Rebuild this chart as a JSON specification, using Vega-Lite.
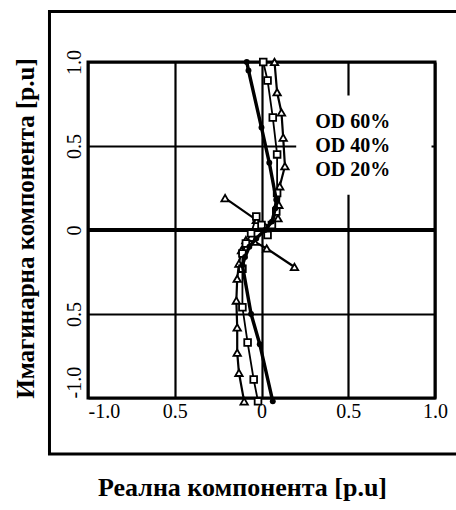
{
  "$schema": "https://vega.github.io/schema/vega-lite/v6.json",
  "width": 347,
  "height": 336,
  "autosize": {"type": "none"},
  "padding": {"left": 88, "top": 62, "right": 21, "bottom": 112},
  "background": "white",
  "config": {
    "view": {"stroke": "black", "strokeWidth": 3},
    "axis": {
      "grid": true, "gridColor": "black", "gridWidth": 2.2, "gridOpacity": 1,
      "domain": false, "ticks": false,
      "labelColor": "black", "labelFont": "Liberation Serif", "labelFontSize": 20,
      "titleFont": "Liberation Serif", "titleFontWeight": "bold", "titleFontSize": 25, "titleColor": "black"
    }
  },
  "datasets": {
    "od60": [
      {"b": "a", "i": 1, "x": -0.085, "y": 1.0},
      {"b": "a", "i": 2, "x": -0.075, "y": 0.95},
      {"b": "a", "i": 3, "x": 0.0, "y": 0.61},
      {"b": "a", "i": 4, "x": 0.045, "y": 0.4},
      {"b": "a", "i": 5, "x": 0.085, "y": 0.18},
      {"b": "a", "i": 6, "x": 0.08, "y": 0.13},
      {"b": "a", "i": 7, "x": 0.06, "y": 0.05},
      {"b": "a", "i": 8, "x": 0.02, "y": 0.0},
      {"b": "a", "i": 9, "x": -0.03, "y": -0.05},
      {"b": "a", "i": 10, "x": -0.07, "y": -0.1},
      {"b": "a", "i": 11, "x": -0.095, "y": -0.16},
      {"b": "a", "i": 12, "x": -0.11, "y": -0.21},
      {"b": "a", "i": 13, "x": -0.06, "y": -0.5},
      {"b": "a", "i": 14, "x": -0.01, "y": -0.68},
      {"b": "a", "i": 15, "x": 0.065, "y": -1.02}
    ],
    "od40": [
      {"b": "a", "i": 1, "x": 0.01, "y": 1.0},
      {"b": "a", "i": 2, "x": 0.035, "y": 0.89},
      {"b": "a", "i": 3, "x": 0.065, "y": 0.67},
      {"b": "a", "i": 4, "x": 0.09, "y": 0.45},
      {"b": "a", "i": 5, "x": 0.09, "y": 0.22},
      {"b": "a", "i": 6, "x": 0.085, "y": 0.11},
      {"b": "a", "i": 7, "x": 0.06, "y": 0.03},
      {"b": "a", "i": 8, "x": 0.035, "y": -0.03},
      {"b": "a", "i": 9, "x": 0.0, "y": 0.03},
      {"b": "a", "i": 10, "x": -0.03, "y": 0.08},
      {"b": "a", "i": 11, "x": -0.06, "y": -0.02},
      {"b": "a", "i": 12, "x": -0.09, "y": -0.08},
      {"b": "a", "i": 13, "x": -0.11, "y": -0.14},
      {"b": "a", "i": 14, "x": -0.11, "y": -0.23},
      {"b": "a", "i": 15, "x": -0.11, "y": -0.46},
      {"b": "a", "i": 16, "x": -0.08, "y": -0.67},
      {"b": "a", "i": 17, "x": -0.045, "y": -0.89},
      {"b": "a", "i": 18, "x": -0.02, "y": -1.02}
    ],
    "od20": [
      {"b": "a", "i": 1, "x": 0.075, "y": 1.0},
      {"b": "a", "i": 2, "x": 0.09, "y": 0.82},
      {"b": "a", "i": 3, "x": 0.115, "y": 0.7},
      {"b": "a", "i": 4, "x": 0.125, "y": 0.55},
      {"b": "a", "i": 5, "x": 0.135, "y": 0.38},
      {"b": "a", "i": 6, "x": 0.105, "y": 0.26},
      {"b": "a", "i": 7, "x": 0.1, "y": 0.15},
      {"b": "a", "i": 8, "x": 0.095, "y": 0.07},
      {"b": "a", "i": 9, "x": 0.05, "y": 0.02},
      {"b": "a", "i": 10, "x": -0.03, "y": 0.06},
      {"b": "a", "i": 11, "x": -0.21, "y": 0.19},
      {"b": "b", "i": 1, "x": 0.19, "y": -0.22},
      {"b": "b", "i": 2, "x": 0.03, "y": -0.11},
      {"b": "b", "i": 3, "x": -0.04, "y": -0.07},
      {"b": "b", "i": 4, "x": -0.09, "y": -0.06},
      {"b": "b", "i": 5, "x": -0.115, "y": -0.12},
      {"b": "b", "i": 6, "x": -0.13, "y": -0.2},
      {"b": "b", "i": 7, "x": -0.14, "y": -0.29},
      {"b": "b", "i": 8, "x": -0.145, "y": -0.42},
      {"b": "b", "i": 9, "x": -0.14, "y": -0.58},
      {"b": "b", "i": 10, "x": -0.14, "y": -0.73},
      {"b": "b", "i": 11, "x": -0.13, "y": -0.85},
      {"b": "b", "i": 12, "x": -0.1, "y": -1.02}
    ]
  },
  "encoding": {
    "x": {
      "field": "x", "type": "quantitative",
      "scale": {"domain": [-1, 1], "nice": false, "zero": false},
      "axis": {
        "values": [-1, -0.5, 0, 0.5, 1],
        "labelExpr": "datum.value == 0 ? '0' : datum.value <= -1 ? '-1.0' : datum.value >= 1 ? '1.0' : '0.5'",
        "labelPadding": 3,
        "labelAlign": {"condition": {"test": "datum.value <= -1", "value": "left"}, "value": "center"},
        "title": "Реална компонента  [p.u]",
        "titleX": 154, "titleY": 97, "titleAlign": "center", "titleBaseline": "alphabetic", "titleFontSize": 26
      }
    },
    "y": {
      "field": "y", "type": "quantitative",
      "scale": {"domain": [-1, 1], "nice": false, "zero": false},
      "axis": {
        "values": [-1, -0.5, 0, 0.5, 1],
        "labelExpr": "datum.value == 0 ? '0' : datum.value <= -1 ? '-1.0' : datum.value >= 1 ? '1.0' : '0.5'",
        "labelAngle": 270,
        "labelPadding": 4,
        "labelBaseline": "bottom",
        "labelAlign": {"condition": {"test": "datum.value <= -1", "value": "left"}, "value": "center"},
        "title": "Имагинарна компонента [p.u]",
        "titleAngle": 270, "titleX": -55, "titleY": 166, "titleAlign": "center", "titleBaseline": "alphabetic"
      }
    }
  },
  "layer": [
    {
      "data": {"values": [{"x": -1.222, "x2": 1.3, "y": -1.333, "y2": 1.3}]},
      "mark": {"type": "rect", "filled": false, "stroke": "black", "strokeWidth": 3, "clip": false},
      "encoding": {"x2": {"field": "x2"}, "y2": {"field": "y2"}}
    },
    {
      "data": {"values": [{"x": -1, "x2": 1, "y": 0}]},
      "mark": {"type": "rule", "color": "black", "strokeWidth": 4},
      "encoding": {"x2": {"field": "x2"}}
    },
    {
      "data": {"values": [{"x": 0.2, "x2": 0.98, "y": 0.21, "y2": 0.8}]},
      "mark": {"type": "rect", "fill": "white", "stroke": null},
      "encoding": {"x2": {"field": "x2"}, "y2": {"field": "y2"}}
    },
    {
      "data": {"values": [
        {"t": "OD 60%", "x": 0.31, "y": 0.643},
        {"t": "OD 40%", "x": 0.31, "y": 0.5},
        {"t": "OD 20%", "x": 0.31, "y": 0.357}
      ]},
      "mark": {"type": "text", "align": "left", "baseline": "middle", "font": "Liberation Serif", "fontWeight": "bold", "fontSize": 20, "color": "black"},
      "encoding": {"text": {"field": "t"}}
    },
    {
      "data": {"name": "od20"},
      "mark": {"type": "line", "color": "black", "strokeWidth": 2.2,
        "point": {"shape": "triangle-up", "filled": true, "fill": "white", "stroke": "black", "strokeWidth": 1.8, "size": 55}},
      "encoding": {"detail": {"field": "b"}, "order": {"field": "i", "type": "quantitative"}}
    },
    {
      "data": {"name": "od40"},
      "mark": {"type": "line", "color": "black", "strokeWidth": 1.8,
        "point": {"shape": "square", "filled": true, "fill": "white", "stroke": "black", "strokeWidth": 1.8, "size": 45}},
      "encoding": {"detail": {"field": "b"}, "order": {"field": "i", "type": "quantitative"}}
    },
    {
      "data": {"name": "od60"},
      "mark": {"type": "line", "color": "black", "strokeWidth": 3.4,
        "point": {"shape": "circle", "filled": true, "fill": "black", "size": 35}},
      "encoding": {"detail": {"field": "b"}, "order": {"field": "i", "type": "quantitative"}}
    }
  ]
}
